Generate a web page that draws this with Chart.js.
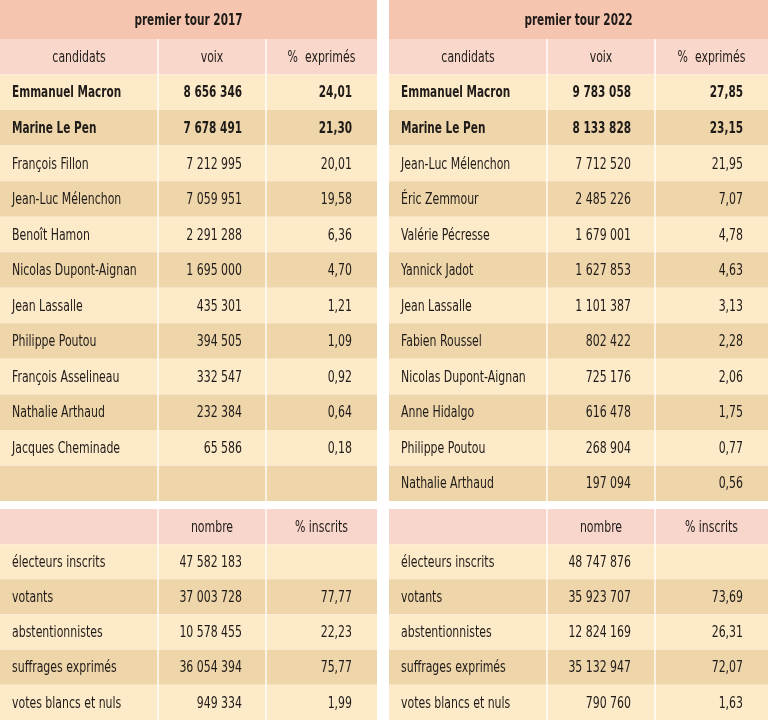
<!DOCTYPE html>
<html lang="fr">
<head>
<meta charset="utf-8">
<title>Présidentielle premier tour 2017 / 2022</title>
<script src="https://cdn.jsdelivr.net/npm/chart.js@4.4.0/dist/chart.umd.min.js"></script>
<style>
  html, body { margin: 0; padding: 0; background: #ffffff; }
  #wrap { display: flex; width: 768px; height: 720px; }
  .panel { display: flex; flex-direction: column; }
  .top { height: 501px; position: relative; }
  .gap { height: 8px; }
  .bottom { height: 211px; position: relative; }
</style>
</head>
<body>
<div id="wrap">
  <div class="panel" style="width:377px">
    <div class="top"><canvas id="top2017"></canvas></div>
    <div class="gap"></div>
    <div class="bottom"><canvas id="bas2017"></canvas></div>
  </div>
  <div style="width:12px"></div>
  <div class="panel" style="width:379px">
    <div class="top"><canvas id="top2022"></canvas></div>
    <div class="gap"></div>
    <div class="bottom"><canvas id="bas2022"></canvas></div>
  </div>
</div>
<script>
  // Résultats du premier tour
  const candidats2017 = ['Emmanuel Macron', 'Marine Le Pen', 'François Fillon', 'Jean-Luc Mélenchon',
    'Benoît Hamon', 'Nicolas Dupont-Aignan', 'Jean Lassalle', 'Philippe Poutou',
    'François Asselineau', 'Nathalie Arthaud', 'Jacques Cheminade'];
  const voix2017 = [8656346, 7678491, 7212995, 7059951, 2291288, 1695000, 435301, 394505, 332547, 232384, 65586];
  const exprimes2017 = [24.01, 21.30, 20.01, 19.58, 6.36, 4.70, 1.21, 1.09, 0.92, 0.64, 0.18];

  const candidats2022 = ['Emmanuel Macron', 'Marine Le Pen', 'Jean-Luc Mélenchon', 'Éric Zemmour',
    'Valérie Pécresse', 'Yannick Jadot', 'Jean Lassalle', 'Fabien Roussel',
    'Nicolas Dupont-Aignan', 'Anne Hidalgo', 'Philippe Poutou', 'Nathalie Arthaud'];
  const voix2022 = [9783058, 8133828, 7712520, 2485226, 1679001, 1627853, 1101387, 802422, 725176, 616478, 268904, 197094];
  const exprimes2022 = [27.85, 23.15, 21.95, 7.07, 4.78, 4.63, 3.13, 2.28, 2.06, 1.75, 0.77, 0.56];

  // Participation
  const indicateurs = ['électeurs inscrits', 'votants', 'abstentionnistes', 'suffrages exprimés', 'votes blancs et nuls'];
  const nombre2017 = [47582183, 37003728, 10578455, 36054394, 949334];
  const inscrits2017 = [null, 77.77, 22.23, 75.77, 1.99];
  const nombre2022 = [48747876, 35923707, 12824169, 35132947, 790760];
  const inscrits2022 = [null, 73.69, 26.31, 72.07, 1.63];

  const enTeteCandidats = ['candidats', 'voix', '%  exprimés'];
  const enTeteBas = ['', 'nombre', '% inscrits'];
  const nbLignes = 12;  // lignes candidats (2017 a une ligne vide)

  const FONT = "'DejaVu Sans Condensed', 'Liberation Sans Narrow', sans-serif";
  const TEXT = '#1f1b18';
  const COL_TITLE = '#f6c5b0';
  const COL_HEAD = '#f9d8cb';
  const COL_HEAD_BAS = '#f8d6cc';
  const COL_LIGHT = '#fdeac9';
  const COL_DARK = '#eed5aa';
  // horizontal squeeze to mimic the condensed face of the original
  const SQ_REG = 0.76;
  const SQ_BOLD = 0.73;

  function fmtNombre(n) {
    if (n == null) return '';
    return String(n).replace(/\B(?=(\d{3})+(?!\d))/g, ' ');
  }
  function fmtPct(p) {
    if (p == null) return '';
    return p.toFixed(2).replace('.', ',');
  }

  function drawText(ctx, txt, x, y, align, bold) {
    ctx.save();
    ctx.font = (bold ? 'bold ' : '') + '16px ' + FONT;
    ctx.translate(x, y);
    ctx.scale(bold ? SQ_BOLD : SQ_REG, 1);
    ctx.textAlign = align;
    ctx.fillText(txt, 0, 0);
    ctx.restore();
  }

  // Title band, drawn in the top padding of the chart
  const titleBand = {
    id: 'titleBand',
    beforeDraw(chart, args, opts) {
      if (!opts.text) return;
      const ctx = chart.ctx;
      const top = chart.chartArea.top;
      ctx.save();
      ctx.fillStyle = COL_TITLE;
      ctx.fillRect(0, 0, chart.width, top);
      ctx.fillStyle = TEXT;
      ctx.textBaseline = 'middle';
      drawText(ctx, opts.text, chart.width / 2, top / 2 + 1, 'center', true);
      ctx.restore();
    }
  };

  // Cell texts, positioned with the chart scales
  const cellText = {
    id: 'cellText',
    afterDatasetsDraw(chart, args, opts) {
      const ctx = chart.ctx;
      const x = chart.scales.x;
      const y = chart.scales.y;
      const edges = opts.edges;
      ctx.save();
      ctx.fillStyle = TEXT;
      ctx.textBaseline = 'middle';
      opts.rows.forEach((row, i) => {
        const yy = y.getPixelForValue(i) + 1;
        const bold = opts.bold[i];
        row.forEach((txt, c) => {
          if (!txt) return;
          const l = x.getPixelForValue(edges[c]);
          const r = x.getPixelForValue(edges[c + 1]);
          if (i === 0) {
            drawText(ctx, txt, (l + r) / 2, yy, 'center', bold);
          } else if (c === 0) {
            drawText(ctx, txt, l + 12, yy, 'left', bold);
          } else {
            drawText(ctx, txt, r - (c === 1 ? 24 : 25), yy, 'right', bold);
          }
        });
      });
      ctx.restore();
    }
  };

  function buildTable(id, title, edges, rows, bold, colors) {
    const borders = [
      { left: 0, right: 1, top: 0, bottom: 0 },
      { left: 1, right: 1, top: 0, bottom: 0 },
      { left: 1, right: 0, top: 0, bottom: 0 }
    ];
    const datasets = [0, 1, 2].map(c => ({
      data: rows.map(() => [edges[c], edges[c + 1]]),
      backgroundColor: colors,
      borderColor: '#ffffff',
      borderWidth: borders[c],
      borderSkipped: false,
      barPercentage: 1,
      categoryPercentage: 1,
      grouped: false
    }));
    return new Chart(document.getElementById(id), {
      type: 'bar',
      data: { labels: rows.map((r, i) => String(i)), datasets },
      options: {
        indexAxis: 'y',
        responsive: true,
        maintainAspectRatio: false,
        animation: false,
        layout: { padding: { top: title ? 39 : 0 } },
        scales: {
          x: { type: 'linear', min: edges[0], max: edges[3], display: false },
          y: { type: 'category', display: false }
        },
        plugins: {
          legend: { display: false },
          tooltip: { enabled: false },
          titleBand: { text: title },
          cellText: { edges, rows, bold }
        }
      },
      plugins: [titleBand, cellText]
    });
  }

  function lignesCandidats(noms, voix, pct) {
    const rows = [enTeteCandidats];
    for (let i = 0; i < nbLignes; i++) {
      rows.push([noms[i] || '', fmtNombre(voix[i]), fmtPct(pct[i])]);
    }
    return rows;
  }
  function lignesBas(nombre, inscrits) {
    return [enTeteBas].concat(indicateurs.map((lab, i) => [lab, fmtNombre(nombre[i]), fmtPct(inscrits[i])]));
  }
  function couleurs(n, head) {
    const out = [head];
    for (let i = 0; i < n; i++) out.push(i % 2 === 0 ? COL_LIGHT : COL_DARK);
    return out;
  }
  const grasCandidats = [false, true, true].concat(new Array(nbLignes - 2).fill(false));
  const grasBas = new Array(indicateurs.length + 1).fill(false);

  buildTable('top2017', 'premier tour 2017', [0, 158, 266, 377],
    lignesCandidats(candidats2017, voix2017, exprimes2017), grasCandidats, couleurs(nbLignes, COL_HEAD));
  buildTable('top2022', 'premier tour 2022', [0, 158, 266, 379],
    lignesCandidats(candidats2022, voix2022, exprimes2022), grasCandidats, couleurs(nbLignes, COL_HEAD));
  buildTable('bas2017', '', [0, 158, 266, 377],
    lignesBas(nombre2017, inscrits2017), grasBas, couleurs(indicateurs.length, COL_HEAD_BAS));
  buildTable('bas2022', '', [0, 158, 266, 379],
    lignesBas(nombre2022, inscrits2022), grasBas, couleurs(indicateurs.length, COL_HEAD_BAS));
</script>
</body>
</html>
